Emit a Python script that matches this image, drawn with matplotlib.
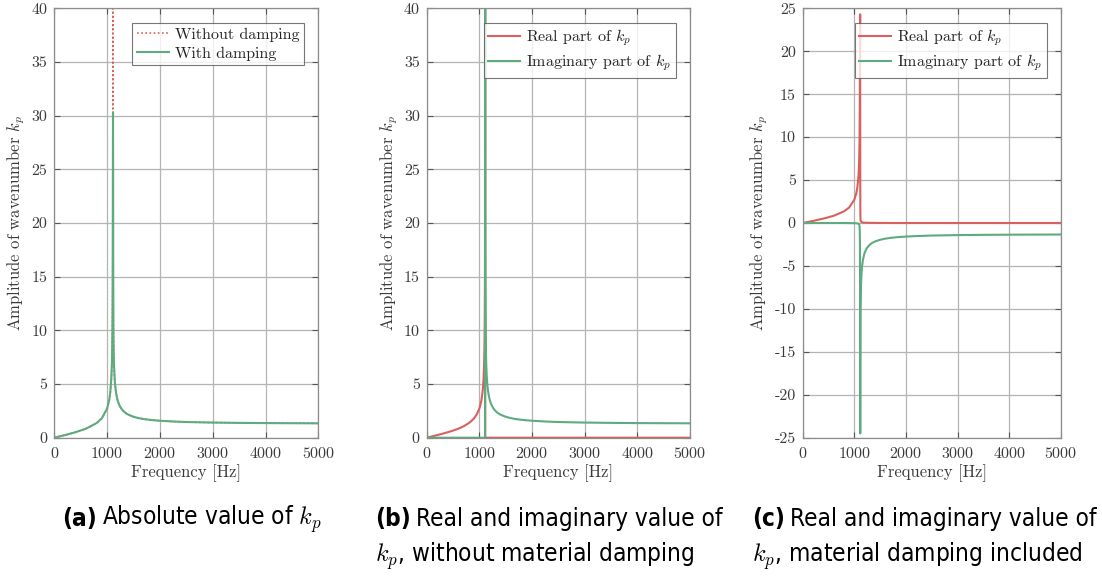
import numpy as np
from matplotlib import pyplot as plt

plt.rcParams["font.family"] = "serif"
plt.rcParams["font.serif"] = ["cmr10"]
plt.rcParams["mathtext.fontset"] = "cm"
plt.rcParams["axes.unicode_minus"] = False
plt.rcParams["axes.formatter.use_mathtext"] = True

RED = "#d9605c"
GREEN = "#5dab7e"
TEXT = "#3a3a3a"
GRID = "#b4b4b4"

# undamped k_p: real branch below the resonance, imaginary branch above it
freq_lo = [0, 100, 200, 300, 400, 500, 600, 700, 800, 850, 900, 950, 1000, 1020, 1040,
           1060, 1070, 1080, 1090, 1095, 1100, 1103, 1105, 1107, 1108, 1109, 1109.5]
kp_lo = [0, 0.12, 0.24, 0.37, 0.51, 0.66, 0.84, 1.06, 1.36, 1.56, 1.81, 2.17, 2.72, 3.05,
         3.52, 4.24, 4.75, 5.52, 6.81, 7.9, 9.70, 11.6, 13.7, 16.9, 21.8, 30.5, 43.6]
freq_hi = [1110.5, 1111, 1112, 1113, 1115, 1117, 1120, 1125, 1130, 1140, 1150, 1165, 1180,
           1200, 1230, 1260, 1300, 1350, 1400, 1500, 1600, 1700, 1850, 2000, 2250, 2500,
           3000, 3500, 4000, 4500, 5000]
kp_hi = [43.6, 30.9, 21.9, 17.9, 13.9, 11.8, 9.82, 8.05, 6.99, 5.76, 5.01, 4.34, 3.91,
         3.45, 3.05, 2.78, 2.52, 2.30, 2.15, 1.95, 1.82, 1.73, 1.64, 1.58, 1.51, 1.46,
         1.41, 1.38, 1.36, 1.35, 1.34]

# damped k_p
freq_d = [0, 200, 400, 600, 800, 900, 1000, 1040, 1060, 1080, 1090, 1095, 1100, 1105,
          1108, 1110, 1112, 1114, 1116, 1118, 1120, 1125, 1130, 1140, 1150, 1165, 1180,
          1200, 1230, 1260, 1300, 1350, 1400, 1500, 1600, 1700, 1850, 2000, 2250, 2500,
          3000, 3500, 4000, 4500, 5000]
kp_abs_d = [0, 0.24, 0.51, 0.84, 1.36, 1.81, 2.72, 3.52, 4.24, 5.5, 6.8, 8.0, 9.6, 13.6,
            19.5, 26.0, 30.3, 25.5, 17.5, 12.5, 9.8, 8.0, 7.0, 5.76, 5.0, 4.34, 3.91,
            3.45, 3.05, 2.78, 2.52, 2.30, 2.15, 1.95, 1.82, 1.73, 1.64, 1.58, 1.51, 1.46,
            1.41, 1.38, 1.36, 1.35, 1.34]
kp_re_d = [0, 0.24, 0.51, 0.84, 1.36, 1.81, 2.72, 3.52, 4.24, 5.5, 6.8, 8.0, 9.6, 13.5,
           18.5, 21.0, 24.3, 6.0, 1.2, 0.5, 0.35, 0.2, 0.15, 0.1, 0.08, 0.06, 0.05,
           0.04, 0.03, 0.03, 0.02, 0.02, 0.01, 0.01, 0.01, 0, 0, 0, 0, 0,
           0, 0, 0, 0, 0]
kp_im_d = [0, 0, 0, 0, 0, -0.01, -0.02, -0.03, -0.05, -0.08, -0.12, -0.2, -0.35, -1.0,
           -2.5, -6.0, -15.0, -24.5, -17.0, -12.5, -9.8, -8.0, -7.0, -5.76, -5.0, -4.34, -3.91,
           -3.45, -3.05, -2.78, -2.52, -2.30, -2.15, -1.95, -1.82, -1.73, -1.64, -1.58, -1.51, -1.46,
           -1.41, -1.38, -1.36, -1.35, -1.34]

xticks = [0, 1000, 2000, 3000, 4000, 5000]
yticks_ab = [0, 5, 10, 15, 20, 25, 30, 35, 40]
yticks_c = [-25, -20, -15, -10, -5, 0, 5, 10, 15, 20, 25]

freq_u = np.array(freq_lo + freq_hi)
kp_abs_u = np.array(kp_lo + kp_hi)
kp_re_u = np.array(kp_lo + [0] * len(freq_hi))
kp_im_u = np.array([0] * len(freq_lo) + kp_hi)

W, H = 1102, 577
fig = plt.figure(figsize=(W / 100, H / 100), dpi=100)


def px_axes(x0, x1, y0=8.3, y1=437.7):
    return fig.add_axes([x0 / W, 1 - y1 / H, (x1 - x0) / W, (y1 - y0) / H])


def style(ax, yticks):
    ax.set_xlim(0, 5000)
    ax.set_ylim(yticks[0], yticks[-1])
    ax.set_xticks(xticks)
    ax.set_yticks(yticks)
    ax.set_yticklabels([str(t) for t in yticks])
    ax.grid(True, color=GRID, linewidth=0.9)
    ax.set_axisbelow(True)
    ax.tick_params(direction="in", top=True, right=True, length=4, width=0.8,
                   colors="#555555", labelcolor=TEXT, labelsize=11.5)
    ax.tick_params(axis="x", pad=6)
    ax.tick_params(axis="y", pad=5)
    for s in ax.spines.values():
        s.set_color("#8c8c8c")
        s.set_linewidth(0.9)
    ax.set_xlabel("Frequency [Hz]", fontsize=12, color=TEXT, labelpad=2)
    ax.set_ylabel("Amplitude of wavenumber $k_p$", fontsize=12, color=TEXT, labelpad=3)


def legend(ax):
    leg = ax.legend(loc="upper right", fontsize=11.5, frameon=True, fancybox=False,
                    edgecolor="#555555", borderpad=0.3, handlelength=2.0,
                    handletextpad=0.35, labelspacing=0.3, borderaxespad=0.9)
    leg.get_frame().set_linewidth(0.8)
    for t in leg.get_texts():
        t.set_color("#222222")


# (a) absolute value
ax = px_axes(54.3, 318.3)
ax.plot(freq_u, kp_abs_u, color=RED, linestyle=(0, (1, 1.5)), linewidth=1.2,
        label="Without damping")
ax.plot(freq_d, kp_abs_d, color=GREEN, linewidth=1.5, label="With damping")
style(ax, yticks_ab)
legend(ax)

# (b) real and imaginary parts, no damping
ax = px_axes(426.7, 690)
ax.plot(freq_u, kp_re_u, color=RED, linewidth=1.5, label="Real part of $k_p$")
ax.plot(freq_u, kp_im_u, color=GREEN, linewidth=1.5, label="Imaginary part of $k_p$")
style(ax, yticks_ab)
legend(ax)

# (c) real and imaginary parts, damping included
ax = px_axes(802.7, 1061)
ax.plot(freq_d, kp_re_d, color=RED, linewidth=1.5, label="Real part of $k_p$")
ax.plot(freq_d, kp_im_d, color=GREEN, linewidth=1.5, label="Imaginary part of $k_p$")
style(ax, yticks_c)
legend(ax)

# sub-captions: bold letter, then the caption text; (a) is centred, (b)/(c) wrap
cap = dict(fontsize=17.5, family="DejaVu Sans", fontstretch="condensed",
           va="center", ha="left", color="black")
y1, y2 = 1 - 519 / H, 1 - 556 / H
captions = [
    ("a", "Absolute value of $k_p$", None, 192, True),
    ("b", "Real and imaginary value of", "$k_p$, without material damping", 375, False),
    ("c", "Real and imaginary value of", "$k_p$, material damping included", 752, False),
]
renderer = fig.canvas.get_renderer()
for letter, line1, line2, x, centred in captions:
    t_lab = fig.text(0, y1, f"({letter})", fontweight="bold", **cap)
    t_txt = fig.text(0, y1, line1, **cap)
    w_lab = t_lab.get_window_extent(renderer).width
    w_txt = t_txt.get_window_extent(renderer).width
    gap = 5
    x0 = x - (w_lab + gap + w_txt) / 2 if centred else x
    t_lab.set_x(x0 / W)
    t_txt.set_x((x0 + w_lab + gap) / W)
    if line2:
        fig.text(x / W, y2, line2, **cap)

fig.savefig("out.png", dpi=100)
